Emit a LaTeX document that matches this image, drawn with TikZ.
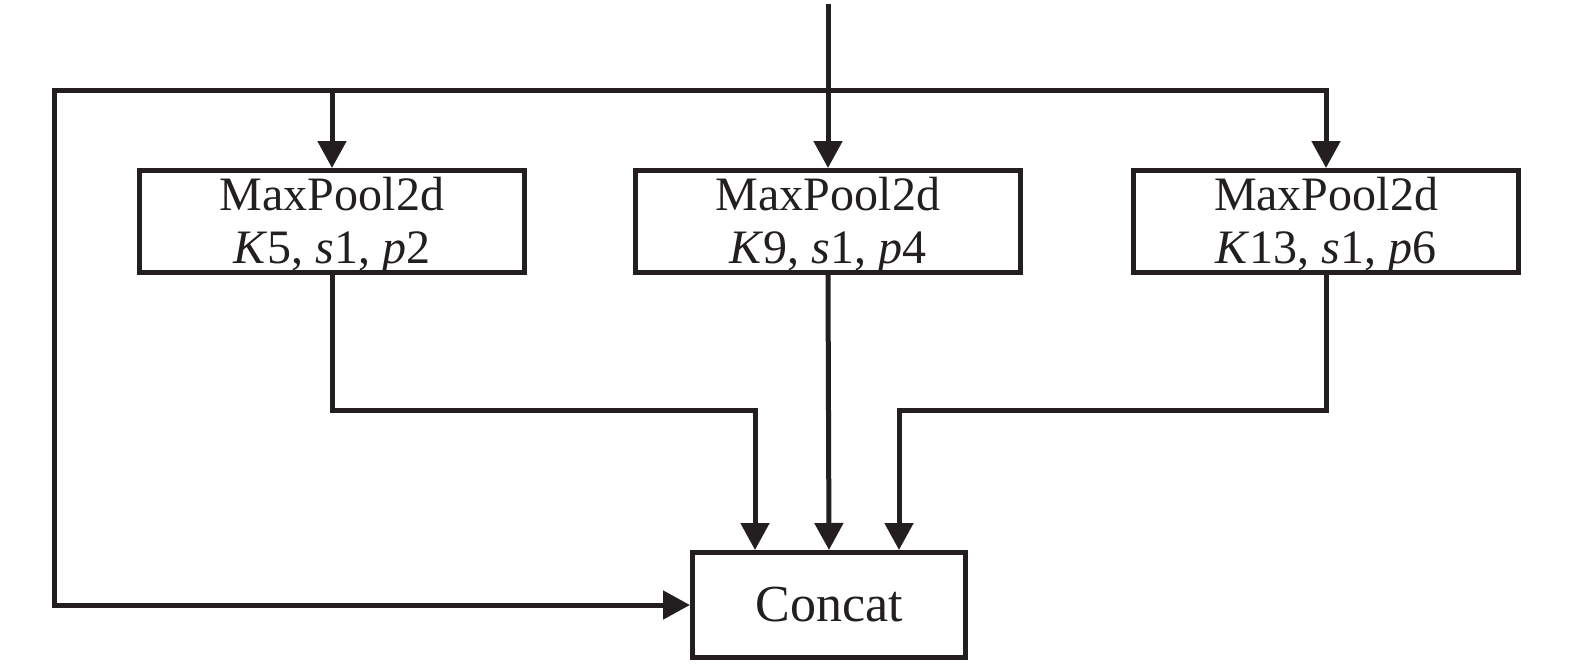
\documentclass[tikz,border=0pt]{standalone}
\usepackage{fontspec}
\setmainfont{Liberation Serif}
\usetikzlibrary{arrows.meta}
\definecolor{ink}{HTML}{231F20}
\tikzset{
  box/.style={draw=ink, line width=2.5pt, minimum width=192.5pt, minimum height=51pt, inner sep=0pt},
  boxtext/.style={align=center, font=\fontsize{24}{26.5}\selectfont, text=ink, inner sep=0pt, yshift=-2pt},
  cbox/.style={draw=ink, line width=2.5pt, minimum width=136.5pt, minimum height=52.5pt, inner sep=0pt, font=\fontsize{26}{28}\selectfont, text=ink},
  wire/.style={draw=ink, line width=2.5pt},
  arr/.style={wire, -{Triangle[width=14pt,length=13.5pt]}}
}
\begin{document}
\begin{tikzpicture}[x=0.5pt,y=-0.5pt]
\useasboundingbox (0,0) rectangle (1575,665);
\node[box, label={[boxtext]center:{MaxPool2d\\\textit{K}5, \textit{s}1, \textit{p}2}}] (b1) at (332,221.5) {};
\node[box, label={[boxtext]center:{MaxPool2d\\\textit{K}9, \textit{s}1, \textit{p}4}}] (b2) at (828,221.5) {};
\node[box, label={[boxtext]center:{MaxPool2d\\\textit{K}13, \textit{s}1, \textit{p}6}}] (b3) at (1326,221.5) {};
\node[cbox] (cc) at (829,605) {Concat};
\coordinate (top) at (828,4);
\coordinate (h) at (828,90);
\coordinate (lc) at (54,90);
\coordinate (m1) at (755,410);
\coordinate (m3) at (899,410);
\draw[arr] (top) -- (b2.north);
\draw[arr] (h) -| (b1.north);
\draw[arr] (h) -| (b3.north);
\draw[arr, line join=miter] (b1.north |- h) -- (lc) |- (cc.west);
\draw[arr] (b1.south) |- (m1) -- (m1 |- cc.north);
\draw[arr] (b2.south) -- (cc.north);
\draw[arr] (b3.south) |- (m3) -- (m3 |- cc.north);
\end{tikzpicture}
\end{document}
